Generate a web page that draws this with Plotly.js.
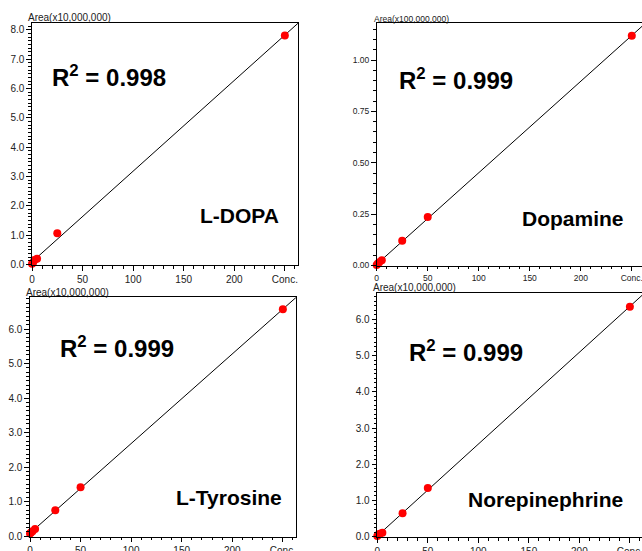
<!DOCTYPE html>
<html>
<head>
<meta charset="utf-8">
<script src="https://cdn.plot.ly/plotly-3.0.1.min.js"></script>
<style>html,body{margin:0;padding:0;background:#fff;}#chart{width:642px;height:551px;}</style>
</head>
<body>
<div id="chart"></div>
<script>
// ---- data ----
const ldopaConc = [0, 1, 2.5, 5, 25, 250];
const ldopaArea = [0.02, 0.06, 0.15, 0.19, 1.06, 7.80];          // x10,000,000
const dopamineConc = [0, 1, 2.5, 5, 25, 50, 250];
const dopamineArea = [0.003, 0.008, 0.016, 0.026, 0.12, 0.236, 1.118]; // x100,000,000
const tyrosineConc = [0, 1, 2.5, 5, 25, 50, 250];
const tyrosineArea = [0.07, 0.10, 0.14, 0.20, 0.75, 1.41, 6.57];  // x10,000,000
const norepiConc = [0, 1, 2.5, 5, 25, 50, 250];
const norepiArea = [0.02, 0.05, 0.08, 0.11, 0.645, 1.34, 6.35];   // x10,000,000

const names = ["L-DOPA", "Dopamine", "L-Tyrosine", "Norepinephrine"];
const r2Labels = ["R<sup>2</sup> = 0.998", "R<sup>2</sup> = 0.999", "R<sup>2</sup> = 0.999", "R<sup>2</sup> = 0.999"];
const areaLabels = ["Area(x10,000,000)", "Area(x100,000,000)", "Area(x10,000,000)", "Area(x10,000,000)"];
const xTickVals = [0, 50, 100, 150, 200, 250];
const xTickText = ["0", "50", "100", "150", "200", "Conc."];

// ---- layout helpers ----
const W = 642, H = 551;
const px = v => v / W;
const py = v => 1 - v / H;

function fit(x, y) {
  const n = x.length;
  const mx = x.reduce((a, b) => a + b, 0) / n;
  const my = y.reduce((a, b) => a + b, 0) / n;
  let sxy = 0, sxx = 0;
  for (let i = 0; i < n; i++) { sxy += (x[i] - mx) * (y[i] - my); sxx += (x[i] - mx) ** 2; }
  const b = sxy / sxx;
  return { slope: b, intercept: my - b * mx };
}

const panels = [
  { x: ldopaConc, y: ldopaArea, dom: [32, 298, 23, 265], xr: [0, 263], yr: [-0.02, 8.23], ydt: 1, yfmt: '.1f', ymin: 0.125, fs: 10, afs: 10,
    r2: [50, 76], lab: [198, 215.5], area: [26, 18] },
  { x: dopamineConc, y: dopamineArea, dom: [376.7, 642, 23.3, 265.5], xr: [0, 260], yr: [0, 1.179], ydt: 0.25, yfmt: '.2f', ymin: 0.05, fs: 8.5, afs: 8.5,
    r2: [397, 79], lab: [520, 218], area: [371.5, 18.5], noRight: true },
  { x: tyrosineConc, y: tyrosineArea, dom: [30, 296, 297.3, 536.7], xr: [0, 263], yr: [-0.02, 6.92], ydt: 1, yfmt: '.1f', ymin: 0.125, fs: 10, afs: 10,
    r2: [57.5, 347], lab: [174, 497.5], area: [24, 292] },
  { x: norepiConc, y: norepiArea, dom: [377.3, 642, 293.3, 537], xr: [0, 262], yr: [-0.01, 6.72], ydt: 1, yfmt: '.1f', ymin: 0.125, fs: 10, afs: 10,
    r2: [407, 351], lab: [465.5, 499], area: [370.5, 287.5], noRight: true }
];

const FONT = "Liberation Sans, Arial, sans-serif";
const traces = [];
const layout = {
  width: W, height: H,
  margin: { l: 0, r: 0, t: 0, b: 0 },
  paper_bgcolor: '#fff', plot_bgcolor: '#fff',
  showlegend: false,
  font: { family: FONT, color: '#222' },
  annotations: []
};

panels.forEach((p, i) => {
  const k = i + 1;
  const xa = 'x' + (k === 1 ? '' : k), ya = 'y' + (k === 1 ? '' : k);
  const f = fit(p.x, p.y);
  const lx = [p.xr[0], p.xr[1]];
  const ly = lx.map(v => f.intercept + f.slope * v);
  traces.push({ x: lx, y: ly, xaxis: xa, yaxis: ya, mode: 'lines', type: 'scatter',
    line: { color: '#000', width: 1 }, hoverinfo: 'skip' });
  traces.push({ x: p.x, y: p.y, xaxis: xa, yaxis: ya, mode: 'markers', type: 'scatter',
    marker: { color: '#ff0000', size: 8 }, cliponaxis: false, hoverinfo: 'skip' });

  const axCommon = {
    showgrid: false, zeroline: false, showline: true, linecolor: '#000', linewidth: 1.2,
    ticks: 'outside', ticklen: 4.5, tickwidth: 1, tickcolor: '#000',
    ticklabeloverflow: 'allow',
    tickfont: { family: FONT, size: p.fs, color: '#222' }, fixedrange: true
  };
  layout['xaxis' + (k === 1 ? '' : k)] = Object.assign({}, axCommon, {
    domain: [px(p.dom[0]), Math.min(1, px(p.dom[1]))],
    range: p.xr, anchor: ya, mirror: true,
    tickmode: 'array', tickvals: xTickVals, ticktext: xTickText,
    minor: { dtick: 10, tick0: 0, ticks: 'outside', ticklen: 2.5, tickcolor: '#000', tickwidth: 1 }
  });
  layout['yaxis' + (k === 1 ? '' : k)] = Object.assign({}, axCommon, {
    domain: [py(p.dom[3]), py(p.dom[2])],
    range: p.yr, anchor: xa, mirror: p.noRight ? false : true,
    tick0: 0, dtick: p.ydt, tickformat: p.yfmt,
    minor: { dtick: p.ymin, tick0: 0, ticks: 'outside', ticklen: 2.5, tickcolor: '#000', tickwidth: 1 }
  });

  layout.annotations.push({ xref: 'paper', yref: 'paper', x: px(p.r2[0]), y: py(p.r2[1]),
    xanchor: 'left', yanchor: 'middle', showarrow: false, text: '<b>' + r2Labels[i] + '</b>',
    font: { family: FONT, size: 24, color: '#000' } });
  layout.annotations.push({ xref: 'paper', yref: 'paper', x: px(p.lab[0]), y: py(p.lab[1]),
    xanchor: 'left', yanchor: 'middle', showarrow: false, text: '<b>' + names[i] + '</b>',
    font: { family: FONT, size: 21, color: '#000' } });
  layout.annotations.push({ xref: 'paper', yref: 'paper', x: px(p.area[0]), y: py(p.area[1]),
    xanchor: 'left', yanchor: 'middle', showarrow: false, text: areaLabels[i],
    font: { family: FONT, size: p.afs, color: '#222' } });
});

Plotly.newPlot('chart', traces, layout, { staticPlot: true, displayModeBar: false });
</script>
</body>
</html>
